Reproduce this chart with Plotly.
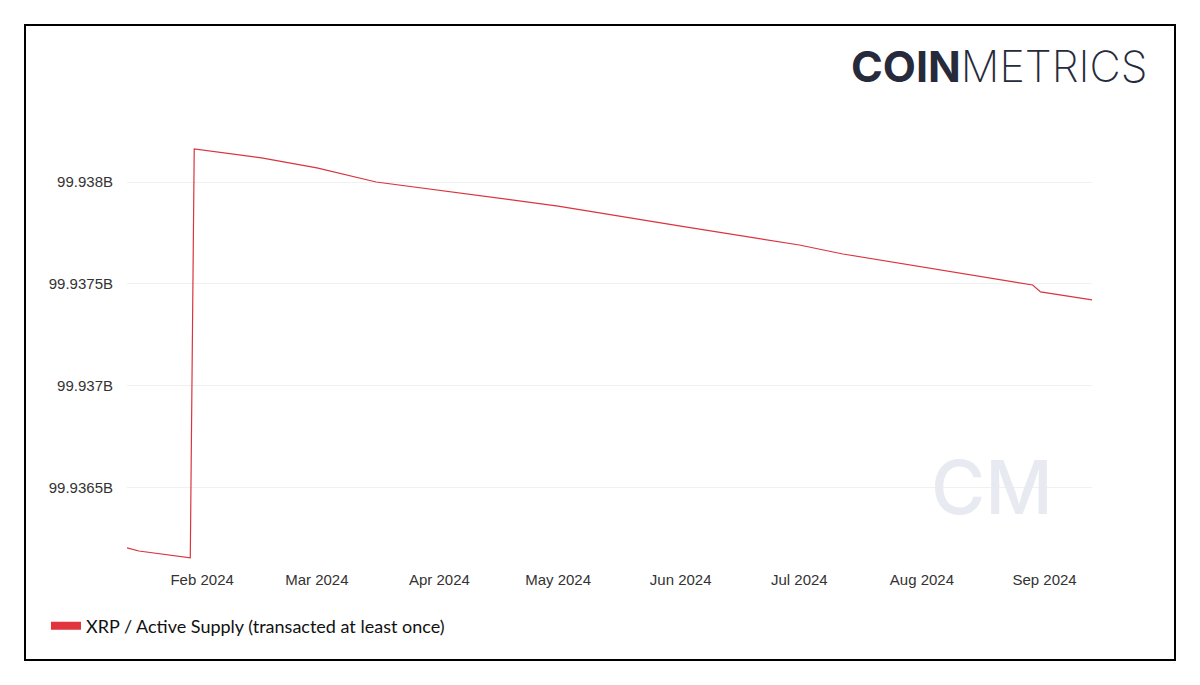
import plotly.graph_objects as go

dates = ["2024-01-13", "2024-01-16", "2024-01-29", "2024-01-30", "2024-02-16",
         "2024-03-01", "2024-03-16", "2024-05-01", "2024-06-01", "2024-07-01",
         "2024-07-12", "2024-08-07", "2024-08-29", "2024-08-31", "2024-09-13"]
supply_b = [99.936206, 99.936191, 99.936157, 99.938162, 99.938118,
            99.938069, 99.938000, 99.937882, 99.937784, 99.937691,
            99.937647, 99.937564, 99.937495, 99.937461, 99.937422]
series_name = "XRP / Active Supply (transacted at least once)"
y_tickvals = [99.9365, 99.937, 99.9375, 99.938]
y_ticktext = ["99.9365B", "99.937B", "99.9375B", "99.938B"]
x_tickvals = ["2024-02-01", "2024-03-01", "2024-04-01", "2024-05-01",
              "2024-06-01", "2024-07-01", "2024-08-01", "2024-09-01"]
x_ticktext = ["Feb 2024", "Mar 2024", "Apr 2024", "May 2024",
              "Jun 2024", "Jul 2024", "Aug 2024", "Sep 2024"]

RED = "#d9343f"

fig = go.Figure()
fig.add_trace(go.Scatter(x=dates, y=supply_b, mode="lines",
                         line=dict(color=RED, width=1.2), showlegend=False,
                         hoverinfo="x+y"))
fig.add_trace(go.Scatter(x=[None], y=[None], mode="lines", name=series_name,
                         line=dict(color="#e0353f", width=8), showlegend=True))

# page body has an 8px margin; work in screen pixels and shift by OFF
OFF = 8
W, H = 1200 - OFF, 685 - 2 * OFF
PL, PR, PT, PB = 127, 1092, 100, 562   # plot area in screen pixels
L, T = PL - OFF, PT - OFF
R = W - (PR - OFF)
B = H - (PB - OFF)
pw, ph = W - L - R, H - T - B

def px(x):
    return (x - OFF - L) / pw

def py(y):
    return (H - B - (y - OFF)) / ph

fig.update_layout(
    width=W, height=H,
    margin=dict(l=L, r=R, t=T, b=B),
    paper_bgcolor="white", plot_bgcolor="white",
    font=dict(family="Liberation Sans, Arial, sans-serif", size=15, color="#333333"),
    xaxis=dict(range=["2024-01-13", "2024-09-13"], tickvals=x_tickvals, ticktext=x_ticktext,
               showgrid=False, zeroline=False, showline=False,
               ticks="outside", ticklen=4, tickcolor="rgba(0,0,0,0)"),
    yaxis=dict(range=[99.936137, 99.938402], tickvals=y_tickvals, ticktext=y_ticktext,
               showgrid=True, gridcolor="#f0f0f0", gridwidth=1, zeroline=False, showline=False,
               ticks="outside", ticklen=10, tickcolor="rgba(0,0,0,0)"),
    legend=dict(orientation="h", x=px(46), y=py(626), xanchor="left", yanchor="middle",
                font=dict(family="Lato, sans-serif", size=18, color="#111111"),
                itemwidth=30, bgcolor="rgba(0,0,0,0)"),
    shapes=[dict(type="rect", xref="paper", yref="paper",
                 x0=px(25), x1=px(1175), y0=py(660), y1=py(25),
                 line=dict(color="black", width=2), fillcolor="rgba(0,0,0,0)", layer="below")],
    annotations=[
        dict(xref="paper", yref="paper", x=px(1149), y=py(66), xanchor="right", yanchor="middle",
             text="<b>COIN</b>METRICS", showarrow=False,
             font=dict(family="Inter, Lato, sans-serif", size=43, color="#262a3b", weight=250)),
        dict(xref="paper", yref="paper", x=px(992), y=py(487), xanchor="center", yanchor="middle",
             text="CM", showarrow=False,
             font=dict(family="Inter, Lato, sans-serif", size=74, color="#e8eaf1", weight=500)),
    ],
)

fig.write_html("out.html")
